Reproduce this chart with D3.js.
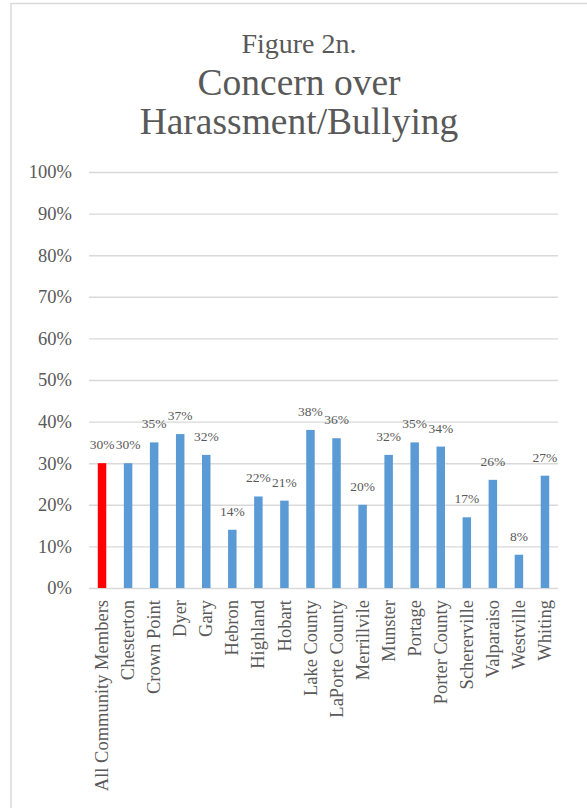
<!DOCTYPE html>
<html>
<head>
<meta charset="utf-8">
<script src="https://cdn.jsdelivr.net/npm/d3@7"></script>
<style>
  html, body { margin: 0; padding: 0; background: #ffffff; }
  svg { display: block; }
  text { font-family: "Liberation Serif", "Times New Roman", serif; fill: #595959; }
</style>
</head>
<body>
<svg id="chart" width="587" height="808"></svg>
<script>
// Share of respondents concerned about harassment/bullying, by community
const categories = [
  "All Community Members", "Chesterton", "Crown Point", "Dyer", "Gary", "Hebron",
  "Highland", "Hobart", "Lake County", "LaPorte County", "Merrillvile", "Munster",
  "Portage", "Porter County", "Schererville", "Valparaiso", "Westville", "Whiting"
];
const values = [30, 30, 35, 37, 32, 14, 22, 21, 38, 36, 20, 32, 35, 34, 17, 26, 8, 27];
const yTicks = [0, 10, 20, 30, 40, 50, 60, 70, 80, 90, 100];
const titleLines = ["Figure 2n.", "Concern over", "Harassment/Bullying"];

const svg = d3.select("#chart");

// chart area frame
svg.append("rect")
  .attr("x", 11).attr("y", 3.5)
  .attr("width", 600).attr("height", 820)
  .attr("fill", "#ffffff")
  .attr("stroke", "#d9d9d9")
  .attr("stroke-width", 1.5);

// title
const titleX = 299;
svg.append("text").attr("x", titleX).attr("y", 53)
  .attr("text-anchor", "middle").style("font-size", "28px").text(titleLines[0]);
svg.append("text").attr("x", titleX).attr("y", 95)
  .attr("text-anchor", "middle").style("font-size", "37.5px").text(titleLines[1]);
svg.append("text").attr("x", titleX).attr("y", 134)
  .attr("text-anchor", "middle").style("font-size", "37.5px").text(titleLines[2]);

const plotLeft = 89, plotRight = 558, plotTop = 172, plotBottom = 588;

const x = d3.scaleBand()
  .domain(categories)
  .range([plotLeft, plotRight])
  .paddingInner(0.674)
  .paddingOuter(0.337);

const y = d3.scaleLinear().domain([0, 100]).range([plotBottom, plotTop]);

// gridlines and y tick labels
const yAxis = d3.axisLeft(y)
  .tickValues(yTicks)
  .tickSize(-(plotRight - plotLeft))
  .tickPadding(17)
  .tickFormat(d => d + "%");

const gy = svg.append("g").attr("transform", `translate(${plotLeft},0)`).call(yAxis);
gy.select(".domain").remove();
gy.selectAll(".tick line").attr("stroke", "#d9d9d9").attr("stroke-width", 1.4);
gy.selectAll(".tick text")
  .attr("fill", "#595959")
  .style("font-family", "'Liberation Serif', 'Times New Roman', serif")
  .style("font-size", "18.5px")
  .attr("dy", "0.32em");

// bars
svg.append("g").selectAll("rect")
  .data(categories)
  .join("rect")
  .attr("x", d => x(d))
  .attr("y", (d, i) => y(values[i]))
  .attr("width", x.bandwidth())
  .attr("height", (d, i) => y(0) - y(values[i]))
  .attr("fill", (d, i) => i === 0 ? "#ff0000" : "#5b9bd5");

// value labels
svg.append("g").selectAll("text")
  .data(categories)
  .join("text")
  .attr("x", d => x(d) + x.bandwidth() / 2)
  .attr("y", (d, i) => y(values[i]) - 14)
  .attr("text-anchor", "middle")
  .style("font-size", "13.5px")
  .text((d, i) => values[i] + "%");

// category axis (rotated labels)
const xAxis = d3.axisBottom(x).tickSize(0).tickPadding(12);
const gx = svg.append("g").attr("transform", `translate(0,${plotBottom})`).call(xAxis);
gx.select(".domain").remove();
gx.selectAll(".tick text")
  .attr("fill", "#595959")
  .style("font-family", "'Liberation Serif', 'Times New Roman', serif")
  .style("font-size", "18.5px")
  .attr("text-anchor", "end")
  .attr("transform", "rotate(-90)")
  .attr("x", -12)
  .attr("y", 0)
  .attr("dy", "0.33em");
</script>
</body>
</html>
